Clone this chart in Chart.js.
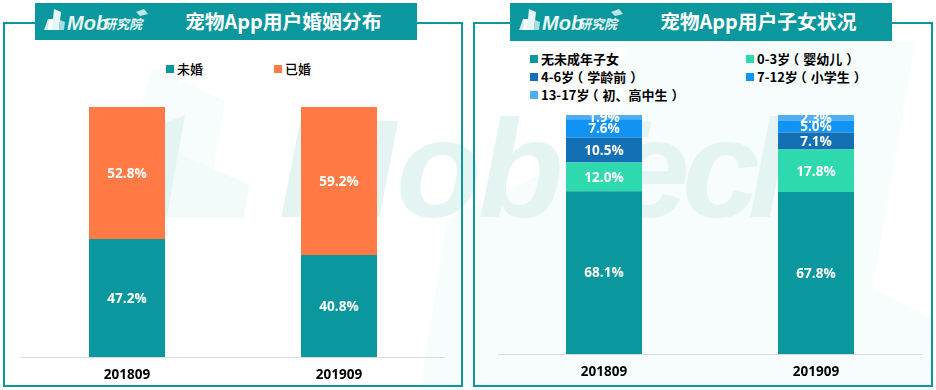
<!DOCTYPE html>
<html><head><meta charset="utf-8">
<script src="https://cdn.jsdelivr.net/npm/chart.js@4"></script>
<style>
html,body{margin:0;padding:0;background:#fff;width:936px;height:390px;overflow:hidden}
.abs{position:absolute}
.frame{position:absolute;border:2px solid #0a979e;box-sizing:border-box}
.head{position:absolute;background:#0a979e;color:#fff;font:bold 19.8px "Noto Sans CJK SC";line-height:37px;white-space:nowrap}
.head .t{position:absolute;top:-1px;width:196px;left:150px;text-align:center}
.head svg{position:absolute;left:0;top:0}
.lg{position:absolute;font:13px "Noto Sans CJK SC";color:#000;white-space:nowrap;line-height:18px}
.sw{position:absolute;width:7.5px;height:7.5px}
canvas{position:absolute}
</style></head><body>
<svg class="abs" style="left:0;top:0" width="936" height="390">
  <polygon points="420,390 447,220 560,165 620,130 625,42 915,42 873,287 932,320 936,390" fill="#f7fdfd"/>
  <polygon points="153,68 225,101 205,217 110,217" fill="#f7fcfc"/>
  <polygon points="178,153 249,185 244,217 167,217" fill="#f3fbfa"/>
  <polygon points="150,130 185,115 178,153 167,217 150,217" fill="#e3f4f2"/>
  <text x="279 396 478 556 612 682 748" y="217" font-family="Liberation Sans" font-weight="bold" font-style="italic" font-size="140" fill="#e3f4f2">MobTech</text>
</svg>
<div class="frame" style="left:3px;top:22px;width:460px;height:365px"></div>
<div class="frame" style="left:473px;top:22px;width:460px;height:365px"></div>
<div id="h1" class="head" style="left:35px;top:3px;width:382px;height:37px"></div>
<div id="h2" class="head" style="left:510px;top:3px;width:382px;height:38px"></div>
<div id="l1"></div><div id="l2"></div>
<canvas id="c1" style="left:20px;top:107px"></canvas>
<canvas id="c2" style="left:498px;top:115px"></canvas>
<script>
const categories = ['201809', '201909'];
const titleMarriage = '宠物App用户婚姻分布';
const titleChildren = '宠物App用户子女状况';
const marriageNames = ['未婚', '已婚'];
const unmarried = [47.2, 40.8];
const married = [52.8, 59.2];
const childNames = ['无未成年子女', '0-3岁（婴幼儿）', '4-6岁（学龄前）', '7-12岁（小学生）', '13-17岁（初、高中生）'];
const noMinor = [68.1, 67.8];
const age0to3 = [12.0, 17.8];
const age4to6 = [10.5, 7.1];
const age7to12 = [7.6, 5.0];
const age13to17 = [1.9, 2.3];
const marriageColors = ['#0a979e', '#ff7a45'];
const childColors = ['#0a979e', '#2ed9ae', '#1470b4', '#1093f2', '#4fadf5'];

function logo() {
  return '<svg width="120" height="37">' +
    '<polygon points="9,27 13,16 20,16 23,27" fill="#cfeaea"/>' +
    '<polygon points="17,27 19,6 26,9 24,27" fill="#e6f5f5"/>' +
    '<polygon points="13,27 17,27 18,16 14,16" fill="#ffffff"/>' +
    '<polygon points="24,27 25,17 30,19 29,27" fill="#a9dcdc"/>' +
    '<polygon points="101,9 109,6 113,11 105,13" fill="#bfe5e5"/>' +
    '<text x="32" y="27" font-family="Liberation Sans" font-style="italic" font-size="20" fill="#e8f7f7">Mob</text>' +
    '<text x="68" y="26" font-family="Noto Sans CJK SC" font-style="italic" font-size="13" fill="#e8f7f7">研究院</text>' +
    '</svg>';
}
document.getElementById('h1').innerHTML = logo() + '<div class="t">' + titleMarriage + '</div>';
document.getElementById('h2').innerHTML = logo() + '<div class="t">' + titleChildren + '</div>';

function legend(id, names, colors, cells, weight) {
  let html = '';
  names.forEach((n, i) => {
    const [x, y, tx] = cells[i];
    const txt = n.replace('（', '<span style="margin:0 4px 0 -4px">（</span>')
                 .replace('）', '<span style="margin-left:4px">）</span>');
    html += '<div class="sw" style="left:' + x + 'px;top:' + (y - 4) + 'px;background:' + colors[i] + '"></div>' +
            '<div class="lg" style="font-weight:' + weight + ';left:' + tx + 'px;top:' + (y - 9) + 'px">' + txt + '</div>';
  });
  document.getElementById(id).innerHTML = html;
}
legend('l1', marriageNames, marriageColors, [[166, 69, 177], [274, 69, 285]], 500);
legend('l2', childNames, childColors, [[530, 59, 541], [746, 59, 757], [530, 77, 541], [746, 77, 757], [530, 95, 541]], 700);

const valueLabels = {
  id: 'valueLabels',
  afterDatasetsDraw(chart) {
    const { ctx, chartArea: a } = chart;
    ctx.save();
    ctx.beginPath();
    ctx.rect(a.left, a.top, a.right - a.left, a.bottom - a.top);
    ctx.clip();
    ctx.fillStyle = '#ffffff';
    ctx.font = 'bold 13.6px "Open Sans"';
    ctx.textAlign = 'center';
    ctx.textBaseline = 'middle';
    chart.data.datasets.forEach((ds, i) => {
      chart.getDatasetMeta(i).data.forEach((bar, j) => {
        const p = bar.getProps(['x', 'y', 'base'], true);
        ctx.fillText(ds.data[j].toFixed(1) + '%', p.x, (p.y + p.base) / 2 + 1);
      });
    });
    ctx.restore();
  }
};

function build(id, w, h, names, series, colors, axisH, padLeft) {
  const c = document.getElementById(id);
  c.width = w; c.height = h; c.style.width = w + 'px'; c.style.height = h + 'px';
  new Chart(c, {
    type: 'bar',
    data: {
      labels: categories,
      datasets: series.map((d, i) => ({
        label: names[i], data: d, backgroundColor: colors[i], borderWidth: 0,
        barPercentage: 76 / 212, categoryPercentage: 1
      }))
    },
    options: {
      responsive: false, animation: false,
      layout: { padding: { left: padLeft, right: 0, top: 0, bottom: 0 } },
      plugins: { legend: { display: false }, tooltip: { enabled: false } },
      scales: {
        x: {
          stacked: true,
          grid: { display: false, drawTicks: false },
          border: { display: true, color: '#d9d9d9', width: 1 },
          ticks: { color: '#000', font: { family: 'Open Sans', weight: 'bold', size: 13.5 }, padding: 10 },
          afterFit(s) { s.height = axisH; }
        },
        y: { stacked: true, display: false, min: 0, max: 100 }
      }
    },
    plugins: [valueLabels]
  });
}
build('c1', 425, 280, marriageNames, [unmarried, married], marriageColors, 30, 1);
build('c2', 424, 270, childNames, [noMinor, age0to3, age4to6, age7to12, age13to17], childColors, 31, 0);
</script>
</body></html>
